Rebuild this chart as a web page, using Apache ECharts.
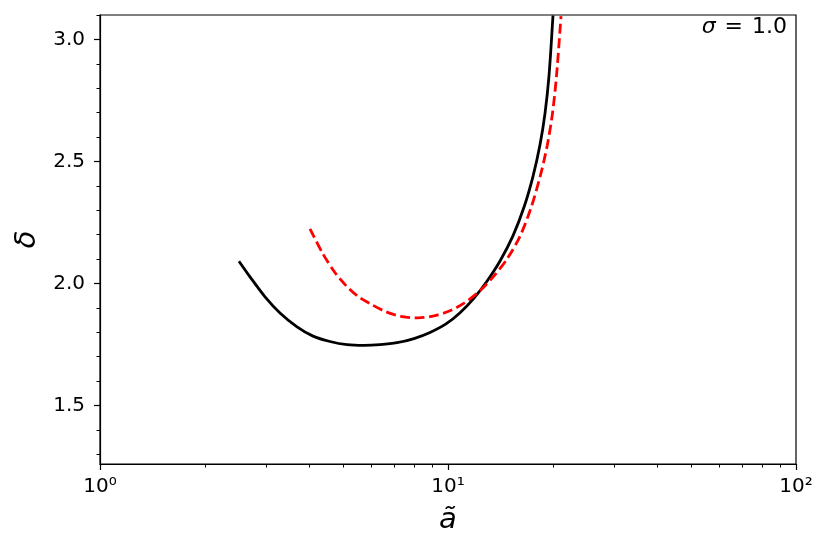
<!DOCTYPE html>
<html>
<head>
<meta charset="utf-8">
<script src="https://cdn.jsdelivr.net/npm/echarts@6/dist/echarts.min.js"></script>
<style>html,body{margin:0;padding:0;background:#fff;}#c{width:830px;height:557px;}</style>
</head>
<body>
<div id="c"></div>
<script>
const blackA = [2.508, 2.698, 2.980, 3.290, 3.683, 4.094, 4.580, 5.126, 5.736, 6.377, 7.137, 7.986, 8.878, 9.869, 10.83, 11.88, 12.94, 14.11, 15.38, 16.54, 17.55, 18.38, 19.00, 19.51, 20.03];
const blackD = [2.091, 2.027, 1.945, 1.879, 1.822, 1.784, 1.762, 1.749, 1.746, 1.749, 1.757, 1.774, 1.799, 1.834, 1.880, 1.940, 2.009, 2.092, 2.196, 2.313, 2.439, 2.568, 2.697, 2.852, 3.098];
const redA = [4.012, 4.344, 4.703, 5.093, 5.512, 5.969, 6.635, 7.377, 8.201, 9.116, 10.13, 11.12, 12.36, 13.56, 14.78, 16.10, 17.32, 18.38, 19.28, 19.95, 20.50, 21.12];
const redD = [2.224, 2.128, 2.050, 1.991, 1.947, 1.917, 1.884, 1.864, 1.859, 1.867, 1.888, 1.919, 1.970, 2.031, 2.100, 2.193, 2.310, 2.436, 2.565, 2.694, 2.850, 3.095];
const yMajor = [1.5, 2.0, 2.5, 3.0];
const yMinor = [1.3, 1.4, 1.6, 1.7, 1.8, 1.9, 2.1, 2.2, 2.3, 2.4, 2.6, 2.7, 2.8, 2.9, 3.1];
const xMajor = [1, 10, 100];
const xMinor = [2, 3, 4, 5, 6, 7, 8, 9, 20, 30, 40, 50, 60, 70, 80, 90];
const sup = {0: '\u2070', 1: '\u00b9', 2: '\u00b2'};

const F = 'DejaVu Sans';
const chart = echarts.init(document.getElementById('c'), null, {renderer: 'canvas'});
chart.setOption({
  animation: false,
  backgroundColor: '#fff',
  grid: {left: 100, right: 34, top: 15, bottom: 93, show: true, borderColor: '#000', borderWidth: 1.2, backgroundColor: 'transparent'},
  xAxis: [
    {
      type: 'log', logBase: 10, min: 1, max: 100,
      name: 'ã', nameLocation: 'middle', nameGap: 42,
      nameTextStyle: {fontFamily: F, fontSize: 29, fontStyle: 'italic', color: '#000'},
      axisLine: {show: true, lineStyle: {color: '#000', width: 1.2}},
      axisTick: {show: true, length: 6, customValues: xMajor, lineStyle: {color: '#000', width: 1.2}},
      axisLabel: {show: true, customValues: xMajor, margin: 13, fontFamily: F, fontSize: 20, color: '#000',
        formatter: v => '10' + sup[Math.round(Math.log10(v))]},
      splitLine: {show: false}, minorTick: {show: false}
    },
    {
      type: 'log', logBase: 10, min: 1, max: 100, position: 'bottom',
      axisLine: {show: false},
      axisTick: {show: true, length: 3.5, customValues: xMinor, lineStyle: {color: '#000', width: 1}},
      axisLabel: {show: false}, splitLine: {show: false}
    }
  ],
  yAxis: [
    {
      type: 'value', min: 1.26, max: 3.1,
      name: 'δ', nameLocation: 'middle', nameGap: 50,
      nameTextStyle: {fontFamily: F, fontSize: 29, fontStyle: 'italic', color: '#000'},
      axisLine: {show: true, lineStyle: {color: '#000', width: 1.2}},
      axisTick: {show: true, length: 6, customValues: yMajor, lineStyle: {color: '#000', width: 1.2}},
      axisLabel: {show: true, customValues: yMajor, margin: 15, fontFamily: F, fontSize: 20, color: '#000',
        formatter: v => v.toFixed(1)},
      splitLine: {show: false}
    },
    {
      type: 'value', min: 1.26, max: 3.1, position: 'left',
      axisLine: {show: false},
      axisTick: {show: true, length: 3.5, customValues: yMinor, lineStyle: {color: '#000', width: 1}},
      axisLabel: {show: false}, splitLine: {show: false}
    }
  ],
  graphic: [{
    type: 'text', right: 43, top: 16,
    style: {
      text: '{i|σ}{e|=}{n|1.0}',
      rich: {
        i: {fontFamily: F, fontSize: 22, fontStyle: 'italic', fill: '#000'},
        e: {fontFamily: F, fontSize: 22, fill: '#000', padding: [0, 9, 0, 9]},
        n: {fontFamily: F, fontSize: 22, fill: '#000'}
      }
    }
  }],
  series: [
    {
      type: 'line', xAxisIndex: 0, yAxisIndex: 0, showSymbol: false, smooth: 0.3, clip: true,
      data: blackA.map((a, i) => [a, blackD[i]]),
      lineStyle: {color: '#000', width: 2.8}
    },
    {
      type: 'line', xAxisIndex: 0, yAxisIndex: 0, showSymbol: false, smooth: 0.3, clip: true,
      data: redA.map((a, i) => [a, redD[i]]),
      lineStyle: {color: '#ff0000', width: 2.8, type: [10, 4.5]}
    }
  ]
});
</script>
</body>
</html>
